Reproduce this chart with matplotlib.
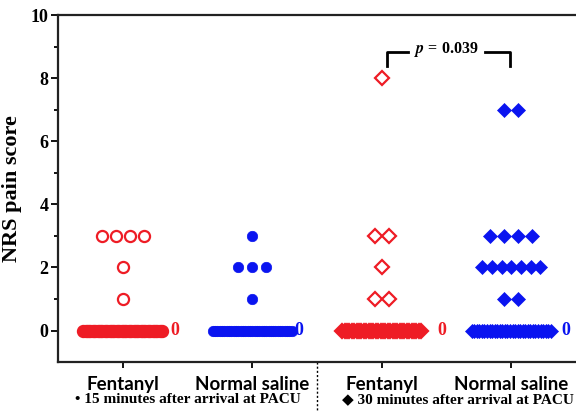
import numpy as np
import matplotlib
matplotlib.use('Agg')
import matplotlib.pyplot as plt

plt.rcParams['mathtext.fontset'] = 'stix'

# NRS pain scores
group_names = ['Fentanyl', 'Normal saline', 'Fentanyl', 'Normal saline']
score_levels = [0, 1, 2, 3, 7, 8]
fent15_counts = [34, 1, 1, 4, 0, 0]
ns15_counts = [35, 1, 3, 1, 0, 0]
fent30_counts = [34, 2, 1, 2, 0, 1]
ns30_counts = [32, 2, 7, 4, 2, 0]
median_labels = ['0', '0', '0', '0']
p_value = ' = 0.039'
time_labels = ['15 minutes after arrival at PACU', '30 minutes after arrival at PACU']

red = '#ee1c25'
blue = '#0a14f0'

fig = plt.figure(figsize=(5.76, 4.11), dpi=100)
ax = fig.add_axes([0.1007, 0.119, 0.8993, 0.8445])

def spread(n):
    # horizontal offsets for points sharing a value
    if n <= 1:
        return np.zeros(n)
    width = min(0.107 * (n - 1), 0.45 if n < 15 else 0.61)
    return np.linspace(-width / 2, width / 2, n)

styles = [
    dict(marker='o', ms=8, mfc='white', mec=red, mew=1.6),
    dict(marker='o', ms=7.5, mfc=blue, mec=blue, mew=0.5),
    dict(marker='D', ms=7.5, mfc='white', mec=red, mew=1.6),
    dict(marker='D', ms=7.5, mfc=blue, mec=blue, mew=0.5),
]
all_counts = [fent15_counts, ns15_counts, fent30_counts, ns30_counts]

for i, counts in enumerate(all_counts):
    pos = i + 1
    for val, n in zip(score_levels, counts):
        if n == 0:
            continue
        xs = pos + spread(n)
        ys = np.full(n, val)
        st = dict(styles[i])
        if val == 0:
            st['mfc'] = st['mec']
        ax.plot(xs, ys, linestyle='none', clip_on=False, zorder=3, **st)

# the small "0" next to each zero row
label_x = [1.40, 2.36, 3.46, 4.42]
label_colors = [red, blue, red, blue]
for lx, txt, c in zip(label_x, median_labels, label_colors):
    ax.text(lx, 0, txt, color=c, fontsize=13, fontweight='bold',
            family='Liberation Serif', ha='center', va='center')

# significance bracket
ax.plot([3.04, 3.04, 3.2], [8.38, 8.83, 8.83], color='black', lw=2, clip_on=False)
ax.plot([3.8, 3.99, 3.99], [8.83, 8.83, 8.38], color='black', lw=2, clip_on=False)
ax.text(3.5, 8.9, r'$\mathbfit{p}$' + p_value, ha='center', va='center',
        fontsize=11.5, fontweight='bold', family='Liberation Serif')

ax.set_xlim(0.5, 4.5)
ax.set_ylim(-1, 10)
ax.set_yticks([0, 2, 4, 6, 8, 10])
ax.set_yticks([1, 3, 5, 7, 9], minor=True)
ax.set_xticks([1, 2, 3, 4])
ax.set_xticklabels(group_names, fontsize=13.5, fontweight='bold', family='Lato')
for lab in ax.get_yticklabels():
    lab.set_fontsize(13)
    lab.set_fontweight('bold')
    lab.set_family('Liberation Serif')
ax.tick_params(axis='y', which='major', length=5, width=1.3, pad=2)
ax.tick_params(axis='y', which='minor', length=3, width=1.3)
ax.tick_params(axis='x', length=4, width=1.3, pad=6)
ax.spines['right'].set_visible(False)
for s in ['left', 'top', 'bottom']:
    ax.spines[s].set_linewidth(1.6)
    ax.spines[s].set_color('#222222')

ax.set_ylabel('NRS pain score', fontsize=16, fontweight='bold',
              family='Liberation Serif', labelpad=6)

# dotted divider between the two time points
ax.plot([2.5, 2.5], [-1, -2.55], color='black', lw=1, linestyle=(0, (1.5, 1.5)), clip_on=False)

fig.text(0.327, 0.027, '\u2022 ' + time_labels[0], ha='center', va='center',
         fontsize=11, fontweight='bold', family=['Liberation Serif', 'DejaVu Sans'])
fig.text(0.795, 0.027, '\u25c6 ' + time_labels[1], ha='center', va='center',
         fontsize=11, fontweight='bold', family=['Liberation Serif', 'DejaVu Sans'])

fig.savefig('out.png', dpi=100)
